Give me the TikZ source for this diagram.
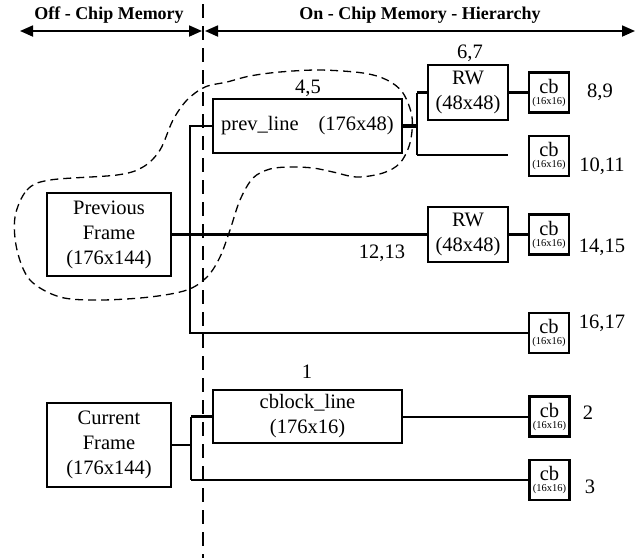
\documentclass[tikz,border=0pt]{standalone}
\usepackage{fontspec}
\setmainfont{Liberation Serif}
\usetikzlibrary{arrows.meta}
\begin{document}
\begin{tikzpicture}[x=1pt,y=-1pt,
  mainfont/.style={font=\fontsize{20.5}{25}\selectfont},
  hdr/.style={font=\bfseries\fontsize{18}{20}\selectfont, inner sep=0pt},
  blk/.style={draw, line width=2.6pt, inner sep=0pt, align=center, mainfont},
  cbbox/.style={draw, line width=2.6pt, inner sep=0pt, minimum width=40pt, minimum height=40pt, align=center, font=\fontsize{20.5}{11}\selectfont},
  lbl/.style={inner sep=0pt, mainfont},
  wire/.style={line width=2.4pt},
  dblarrow/.style={line width=1.8pt, {Triangle[length=13pt,width=11pt]}-{Triangle[length=13pt,width=11pt]}},
  divider/.style={line width=2.6pt, dash pattern=on 14pt off 8pt},
  blob/.style={line width=1.3pt, dash pattern=on 8pt off 5pt}
]
\useasboundingbox (0,0) rectangle (640,558);

% headers
\node[hdr] (offhdr) at (109,15) {Off - Chip Memory};
\node[hdr] (onhdr) at (420,15) {On - Chip Memory - Hierarchy};
\coordinate (la) at (20,31);
\coordinate (lb) at (202,31);
\coordinate (ra) at (205,31);
\coordinate (rb) at (635,31);
\draw[dblarrow] (la) -- (lb);
\draw[dblarrow] (ra) -- (rb);

% divider
\coordinate (dtop) at (203,4);
\coordinate (dbot) at (203,558);
\draw[divider] (dtop) -- (dbot);

% dashed blob
\draw[blob] plot[smooth cycle, tension=0.55] coordinates {
 (15,217) (27,190) (50,180) (117,175) (143,167) (160,150) (173,120) (187,100)
 (205,87) (227,82) (250,76) (280,72) (320,70) (363,73) (387,80) (403,93)
 (412,117) (410,143) (400,163) (383,173) (357,177) (333,172) (313,168)
 (290,167) (270,169) (253,178) (240,200) (230,230) (220,257) (207,277)
 (187,290) (150,297) (100,300) (60,297) (30,280) (17,250)};

% boxes
\node[blk, minimum width=124pt, minimum height=83pt] (prevframe) at (109,234.5) {Previous\\Frame\\(176x144)};
\node[blk, minimum width=124pt, minimum height=84pt] (curframe) at (109,445) {Current\\Frame\\(176x144)};
\node[blk, minimum width=189pt, minimum height=54pt] (prevline) at (307.5,126) {prev\_line\hspace{20pt}(176x48)};
\node[blk, minimum width=80pt, minimum height=55pt] (rwa) at (468,92.5) {RW\\(48x48)};
\node[blk, minimum width=80pt, minimum height=55pt] (rwb) at (468,234.5) {RW\\(48x48)};
\node[blk, minimum width=189pt, minimum height=53pt] (cblock) at (307.5,416.5) {cblock\_line\\(176x16)};

\node[cbbox] (cba) at (549,92.5) {cb\\{\fontsize{10.5}{11}\selectfont (16x16)}};
\node[cbbox] (cbb) at (549,156) {cb\\{\fontsize{10.5}{11}\selectfont (16x16)}};
\node[cbbox] (cbc) at (549,234.5) {cb\\{\fontsize{10.5}{11}\selectfont (16x16)}};
\node[cbbox] (cbd) at (549,333) {cb\\{\fontsize{10.5}{11}\selectfont (16x16)}};
\node[cbbox] (cbe) at (549.5,416.5) {cb\\{\fontsize{10.5}{11}\selectfont (16x16)}};
\node[cbbox] (cbf) at (549.5,480) {cb\\{\fontsize{10.5}{11}\selectfont (16x16)}};

% labels
\node[lbl] (l45) at (308,88) {4,5};
\node[lbl] (l67) at (470,53) {6,7};
\node[lbl] (l89) at (600,92) {8,9};
\node[lbl] (l1011) at (602,166) {10,11};
\node[lbl] (l1213) at (382,253) {12,13};
\node[lbl] (l1415) at (602,247) {14,15};
\node[lbl] (l1617) at (602,323) {16,17};
\node[lbl] (l1) at (307,372) {1};
\node[lbl] (l2) at (588,413) {2};
\node[lbl] (l3) at (590,487) {3};

% previous frame tree
\coordinate (ta) at (190,126);
\coordinate (tb) at (190,333);
\draw[wire] (prevframe.east) -- (rwb.west);
\draw[wire] (prevline.west) -- (ta) -- (tb) -- (cbd.west);
\coordinate (sa) at (417,126);
\coordinate (sb) at (417,92.5);
\coordinate (sc) at (417,155);
\coordinate (sd) at (508,155);
\draw[line width=3.2pt] (prevline.east) -- (sa);
\draw[wire] (sb) -- (sc);
\draw[wire] (sb) -- (rwa.west);
\draw[wire] (sc) -- (sd);
\draw[wire] (rwa.east) -- (cba.west);
\draw[wire] (rwb.east) -- (cbc.west);

% current frame tree
\coordinate (ua) at (191,445);
\coordinate (ub) at (191,416.5);
\coordinate (uc) at (191,480);
\draw[wire] (curframe.east) -- (ua);
\draw[wire] (ub) -- (uc);
\draw[wire] (ub) -- (cblock.west);
\draw[wire] (uc) -- (cbf.west);
\draw[line width=2pt] (cblock.east) -- (cbe.west);
\end{tikzpicture}
\end{document}
